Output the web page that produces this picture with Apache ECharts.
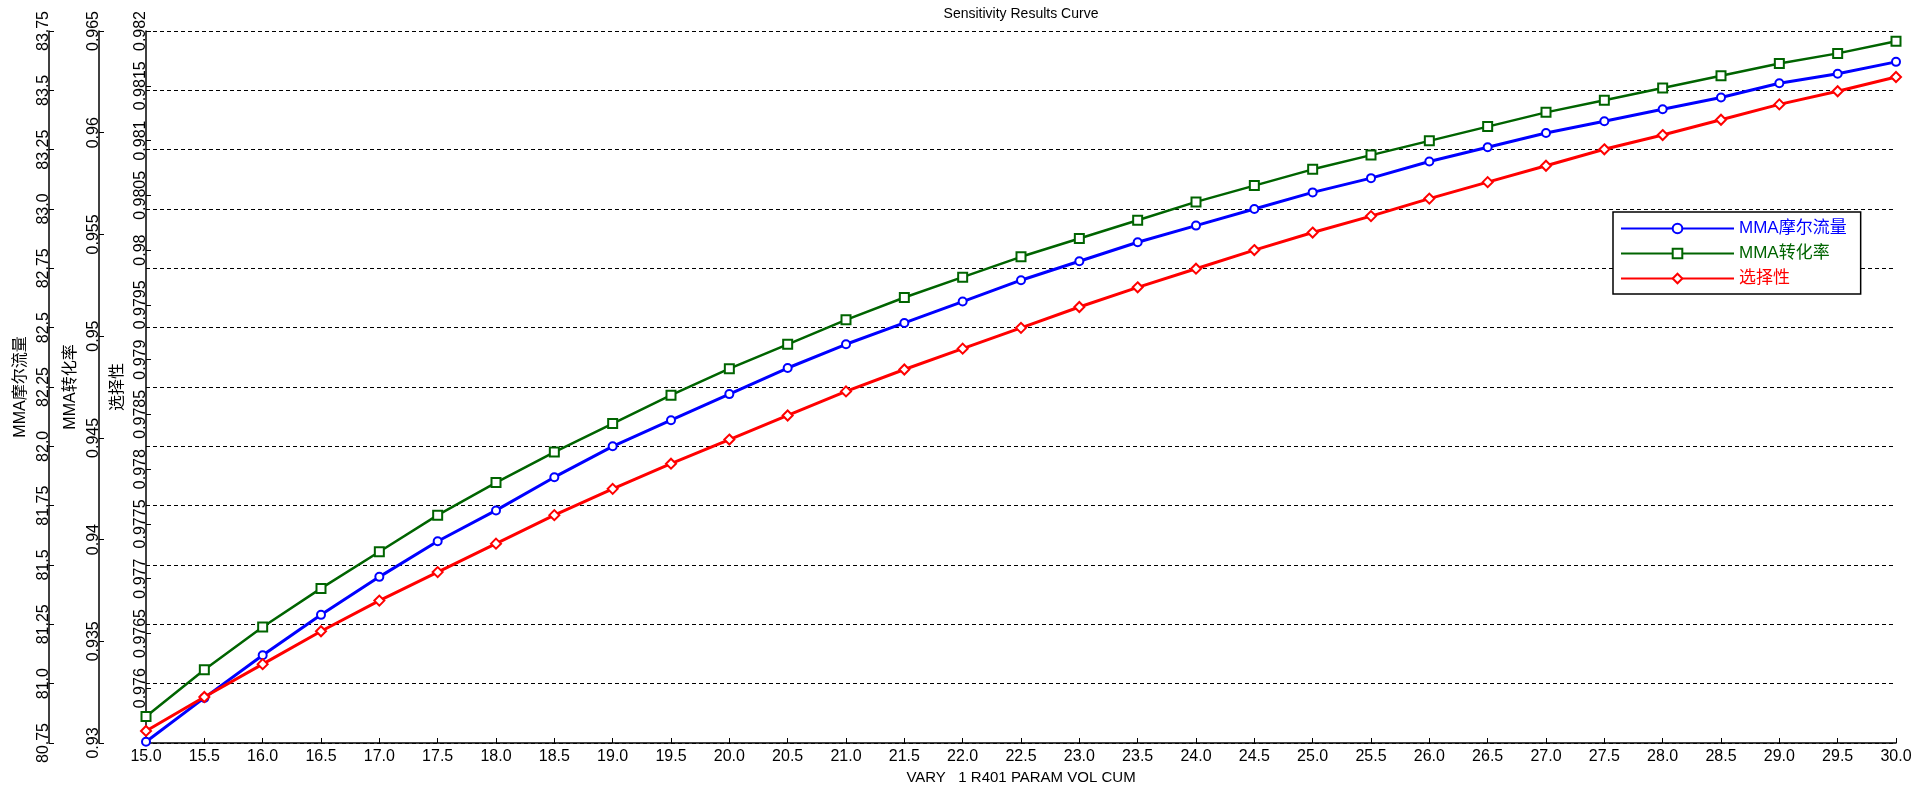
<!DOCTYPE html>
<html>
<head>
<meta charset="utf-8">
<title>Sensitivity Results Curve</title>
<script src="https://cdn.jsdelivr.net/npm/echarts@6/dist/echarts.min.js"></script>
<style>
  html, body { margin: 0; padding: 0; background: #ffffff; }
  #chart { width: 1915px; height: 793px; }
</style>
</head>
<body>
<div id="chart"></div>
<script>
// ---- data ----
const xValues = [15.0, 15.5, 16.0, 16.5, 17.0, 17.5, 18.0, 18.5, 19.0, 19.5, 20.0,
                 20.5, 21.0, 21.5, 22.0, 22.5, 23.0, 23.5, 24.0, 24.5, 25.0,
                 25.5, 26.0, 26.5, 27.0, 27.5, 28.0, 28.5, 29.0, 29.5, 30.0];

const molarFlow = [80.755, 80.94, 81.12, 81.29, 81.45, 81.60, 81.73, 81.87, 82.00, 82.11, 82.22,
                   82.33, 82.43, 82.52, 82.61, 82.70, 82.78, 82.86, 82.93, 83.00, 83.07,
                   83.13, 83.20, 83.26, 83.32, 83.37, 83.42, 83.47, 83.53, 83.57, 83.62];

const conversion = [0.9313, 0.9336, 0.9357, 0.9376, 0.9394, 0.9412, 0.9428, 0.9443, 0.9457, 0.9471, 0.9484,
                    0.9496, 0.9508, 0.9519, 0.9529, 0.9539, 0.9548, 0.9557, 0.9566, 0.9574, 0.9582,
                    0.9589, 0.9596, 0.9603, 0.9610, 0.9616, 0.9622, 0.9628, 0.9634, 0.9639, 0.9645];

const selectivity = [0.97561, 0.97592, 0.97622, 0.97652, 0.97680, 0.97706, 0.97732, 0.97758, 0.97782, 0.97805, 0.97827,
                     0.97849, 0.97871, 0.97891, 0.97910, 0.97929, 0.97948, 0.97966, 0.97983, 0.98000, 0.98016,
                     0.98031, 0.98047, 0.98062, 0.98077, 0.98092, 0.98105, 0.98119, 0.98133, 0.98145, 0.98158];

const seriesNames = ['MMA摩尔流量', 'MMA转化率', '选择性'];
const seriesColors = ['#0000ff', '#006400', '#ff0000'];
const titleText = 'Sensitivity Results Curve';
const xAxisName = 'VARY   1 R401 PARAM VOL CUM';

// ---- chart ----
const FONT = "'Liberation Sans', Arial, 'Noto Sans CJK SC', sans-serif";
const chart = echarts.init(document.getElementById('chart'), null, { renderer: 'canvas' });

function pairs(ys) { return xValues.map((x, i) => [x, ys[i]]); }

function yAxisCommon(offset, min, max, interval, fmt, name) {
  return {
    type: 'value',
    position: 'left',
    offset: offset,
    min: min, max: max, interval: interval,
    name: name,
    nameLocation: 'middle',
    nameGap: 11,
    nameRotate: 90,
    nameTextStyle: { color: '#000', fontSize: 16, fontFamily: FONT },
    axisLine: { show: true, onZero: false, lineStyle: { color: '#000', width: 1.5 } },
    axisTick: { show: true, inside: true, length: 5, lineStyle: { color: '#000', width: 1 } },
    axisLabel: { rotate: 90, margin: -3, color: '#000', fontSize: 16, fontFamily: FONT, formatter: fmt },
    splitLine: { show: false }
  };
}

const yAxes = [
  yAxisCommon(97, 80.75, 83.75, 0.25, v => {
    const r = Math.round(v * 100) / 100;
    return Number.isInteger(r) ? r.toFixed(1) : String(r);
  }, seriesNames[0]),
  yAxisCommon(47, 0.93, 0.965, 0.005, v => String(parseFloat(v.toFixed(3))), seriesNames[1]),
  yAxisCommon(0, 0.9755, 0.982, 0.0005, v => String(parseFloat(v.toFixed(4))), seriesNames[2])
];
yAxes[0].splitLine = { show: true, lineStyle: { color: '#000', width: 1, type: [4, 3] } };
yAxes[2].axisLabel.showMinLabel = false;

const symbols = ['emptyCircle', 'emptyRect', 'emptyDiamond'];
const symbolSizes = [8, 9, 10];
const lineWidths = [3, 2.5, 3];
const datasets = [molarFlow, conversion, selectivity];

const option = {
  backgroundColor: '#ffffff',
  animation: false,
  title: {
    text: titleText,
    left: 1021, top: 7, padding: 0,
    textAlign: 'center',
    textStyle: { color: '#000', fontSize: 14, fontWeight: 'normal', fontFamily: FONT }
  },
  legend: {
    orient: 'vertical',
    left: 1613, top: 212,
    itemWidth: 113, itemHeight: 12, itemGap: 8,
    padding: [8, 14, 7, 7],
    borderColor: '#000', borderWidth: 1.5,
    backgroundColor: '#fff',
    textStyle: { fontSize: 17, fontFamily: FONT },
    data: seriesNames.map((n, i) => ({ name: n, textStyle: { color: seriesColors[i] } }))
  },
  grid: { left: 146, right: 19, top: 31, bottom: 50, containLabel: false },
  xAxis: {
    type: 'value',
    min: 15, max: 30, interval: 0.5,
    name: xAxisName,
    nameLocation: 'middle',
    nameGap: 25,
    nameTextStyle: { color: '#000', fontSize: 15, fontFamily: FONT },
    axisLine: { show: true, onZero: false, lineStyle: { color: '#000', width: 1.5 } },
    axisTick: { show: true, inside: true, length: 5, lineStyle: { color: '#000', width: 1 } },
    axisLabel: { margin: 6, color: '#000', fontSize: 16, fontFamily: FONT, formatter: v => v.toFixed(1) },
    splitLine: { show: false }
  },
  yAxis: yAxes,
  series: datasets.map((d, i) => ({
    name: seriesNames[i],
    type: 'line',
    yAxisIndex: i,
    data: pairs(d),
    color: seriesColors[i],
    symbol: symbols[i],
    symbolSize: symbolSizes[i],
    showAllSymbol: true,
    lineStyle: { width: lineWidths[i], color: seriesColors[i] },
    itemStyle: { color: seriesColors[i], borderColor: seriesColors[i], borderWidth: 1.5 },
    emphasis: { disabled: true },
    z: 2 + i
  }))
};

chart.setOption(option);
</script>
</body>
</html>
